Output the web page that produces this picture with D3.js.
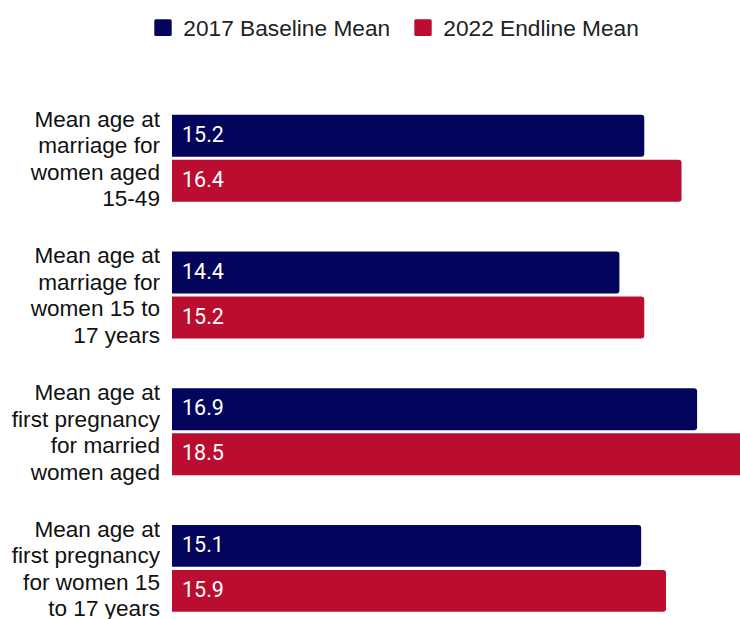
<!DOCTYPE html>
<html>
<head>
<meta charset="utf-8">
<script src="https://cdn.jsdelivr.net/npm/d3@7/dist/d3.min.js"></script>
<style>
  html, body { margin: 0; padding: 0; background: #fff; }
  svg { display: block; }
</style>
</head>
<body>
<svg id="chart" width="740" height="619"></svg>
<script>
// Indicator labels (line breaks as displayed)
const categories = [
  ["Mean age at", "marriage for", "women aged", "15-49"],
  ["Mean age at", "marriage for", "women 15 to", "17 years"],
  ["Mean age at", "first pregnancy", "for married", "women aged"],
  ["Mean age at", "first pregnancy", "for women 15", "to 17 years"]
];
const seriesNames = ["2017 Baseline Mean", "2022 Endline Mean"];
const seriesColors = ["#03045c", "#ba0d30"];
const baseline2017 = [15.2, 14.4, 16.9, 15.1];
const endline2022 = [16.4, 15.2, 18.5, 15.9];

const rows = categories.map((c, i) => ({
  key: "c" + i,
  lines: c,
  values: [baseline2017[i], endline2022[i]]
}));

const svg = d3.select("#chart");

const x = d3.scaleLinear().domain([0, 20]).range([172, 172 + 20 * 31.07]);
const y = d3.scaleBand()
  .domain(rows.map(r => r.key))
  .range([90, 636.7])
  .paddingInner(0.364)
  .paddingOuter(0.182);
const ySub = d3.scaleBand()
  .domain(seriesNames)
  .range([0, y.bandwidth()])
  .paddingInner(0.068);

const labelFont = "'Liberation Sans', Arial, sans-serif";
const labelSize = 22.6;

// rectangle with rounded right-hand corners
function barPath(x0, y0, w, h, r) {
  r = Math.min(r, w / 2, h / 2);
  return `M${x0},${y0}H${x0 + w - r}Q${x0 + w},${y0} ${x0 + w},${y0 + r}` +
         `V${y0 + h - r}Q${x0 + w},${y0 + h} ${x0 + w - r},${y0 + h}H${x0}Z`;
}

// Legend
const legendItems = [
  { name: seriesNames[0], color: seriesColors[0], sx: 154.3, tx: 183.3 },
  { name: seriesNames[1], color: seriesColors[1], sx: 414.3, tx: 443.3 }
];
const legend = svg.append("g");
legend.selectAll("rect").data(legendItems).join("rect")
  .attr("x", d => d.sx).attr("y", 19.3)
  .attr("width", 17.4).attr("height", 16.8)
  .attr("rx", 1.5)
  .attr("fill", d => d.color);
legend.selectAll("text").data(legendItems).join("text")
  .attr("x", d => d.tx)
  .attr("y", 36)
  .attr("font-family", labelFont)
  .attr("font-size", 22.7)
  .attr("fill", "#222")
  .text(d => d.name);

// Bars
const groups = svg.append("g").selectAll("g").data(rows).join("g")
  .attr("transform", d => `translate(0,${y(d.key)})`);

groups.selectAll("path")
  .data(d => d.values.map((v, i) => ({ v, s: seriesNames[i], c: seriesColors[i] })))
  .join("path")
  .attr("d", d => barPath(x(0), ySub(d.s), x(d.v) - x(0), ySub.bandwidth(), 3))
  .attr("fill", d => d.c);

groups.selectAll("text.val")
  .data(d => d.values.map((v, i) => ({ v, s: seriesNames[i] })))
  .join("text")
  .attr("class", "val")
  .attr("x", x(0) + 10)
  .attr("y", d => ySub(d.s) + ySub.bandwidth() / 2 + 6)
  .attr("font-family", "Roboto, sans-serif")
  .attr("font-size", 21.5)
  .attr("fill", "#fff")
  .text(d => d3.format(".1f")(d.v));

// Category labels
const lineH = 26.5, cap = labelSize * 0.716;
groups.each(function (d) {
  const g = d3.select(this);
  const mid = y.bandwidth() / 2;
  const n = d.lines.length;
  g.selectAll("text.cat").data(d.lines).join("text")
    .attr("class", "cat")
    .attr("x", 160)
    .attr("y", (t, i) => mid + (i - (n - 1) / 2) * lineH + cap / 2)
    .attr("text-anchor", "end")
    .attr("font-family", labelFont)
    .attr("font-size", labelSize)
    .attr("fill", "#111")
    .text(t => t);
});
</script>
</body>
</html>
